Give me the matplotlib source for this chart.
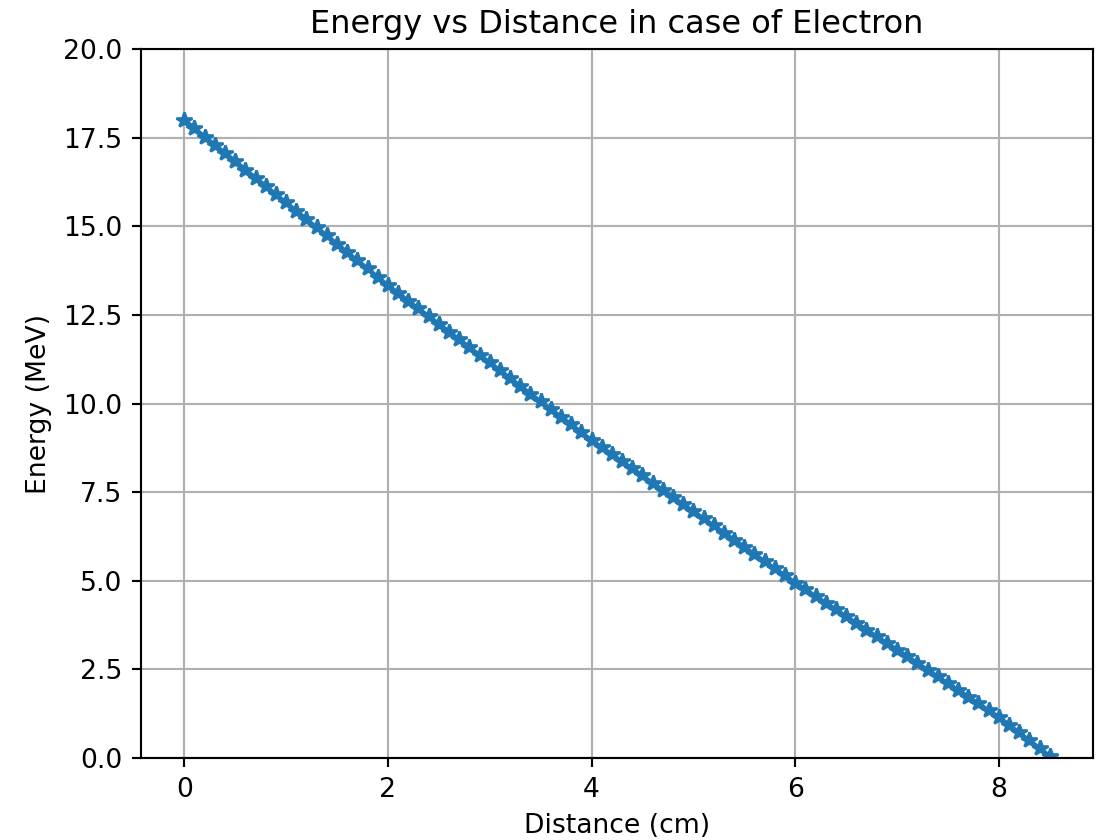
import numpy as np
import matplotlib
matplotlib.use("Agg")
import matplotlib.pyplot as plt

# distance in cm
distance = [0.0, 0.1, 0.2, 0.3, 0.4, 0.5, 0.6, 0.7, 0.8, 0.9,
            1.0, 1.1, 1.2, 1.3, 1.4, 1.5, 1.6, 1.7, 1.8, 1.9,
            2.0, 2.1, 2.2, 2.3, 2.4, 2.5, 2.6, 2.7, 2.8, 2.9,
            3.0, 3.1, 3.2, 3.3, 3.4, 3.5, 3.6, 3.7, 3.8, 3.9,
            4.0, 4.1, 4.2, 4.3, 4.4, 4.5, 4.6, 4.7, 4.8, 4.9,
            5.0, 5.1, 5.2, 5.3, 5.4, 5.5, 5.6, 5.7, 5.8, 5.9,
            6.0, 6.1, 6.2, 6.3, 6.4, 6.5, 6.6, 6.7, 6.8, 6.9,
            7.0, 7.1, 7.2, 7.3, 7.4, 7.5, 7.6, 7.7, 7.8, 7.9,
            8.0, 8.1, 8.2, 8.3, 8.4, 8.5]

# energy in MeV
energy = [18.00, 17.77, 17.53, 17.30, 17.07, 16.84, 16.60, 16.37, 16.14, 15.90,
          15.67, 15.44, 15.20, 14.97, 14.74, 14.51, 14.27, 14.04, 13.81, 13.57,
          13.34, 13.12, 12.90, 12.68, 12.47, 12.25, 12.03, 11.81, 11.59, 11.37,
          11.16, 10.94, 10.72, 10.50, 10.28, 10.06, 9.84, 9.63, 9.41, 9.19,
          8.97, 8.77, 8.57, 8.37, 8.17, 7.97, 7.76, 7.56, 7.36, 7.16,
          6.96, 6.76, 6.56, 6.36, 6.16, 5.96, 5.75, 5.55, 5.35, 5.15,
          4.95, 4.76, 4.57, 4.38, 4.19, 4.00, 3.81, 3.62, 3.43, 3.25,
          3.06, 2.87, 2.68, 2.49, 2.30, 2.11, 1.92, 1.73, 1.54, 1.35,
          1.16, 0.94, 0.72, 0.50, 0.28, 0.06]

fig = plt.figure(figsize=(1104 / 192, 840 / 192), dpi=192)
fig.subplots_adjust(left=141 / 1104, right=1093 / 1104, top=1 - 49 / 840, bottom=1 - 758 / 840)
ax = fig.add_subplot(111)
ax.plot(distance, energy, marker='*')
ax.set_ylim(0, 20)
ax.set_title('Energy vs Distance in case of Electron')
ax.set_xlabel('Distance (cm)')
ax.set_ylabel('Energy (MeV)')
ax.grid(True)
fig.savefig('out.png', dpi=192)
